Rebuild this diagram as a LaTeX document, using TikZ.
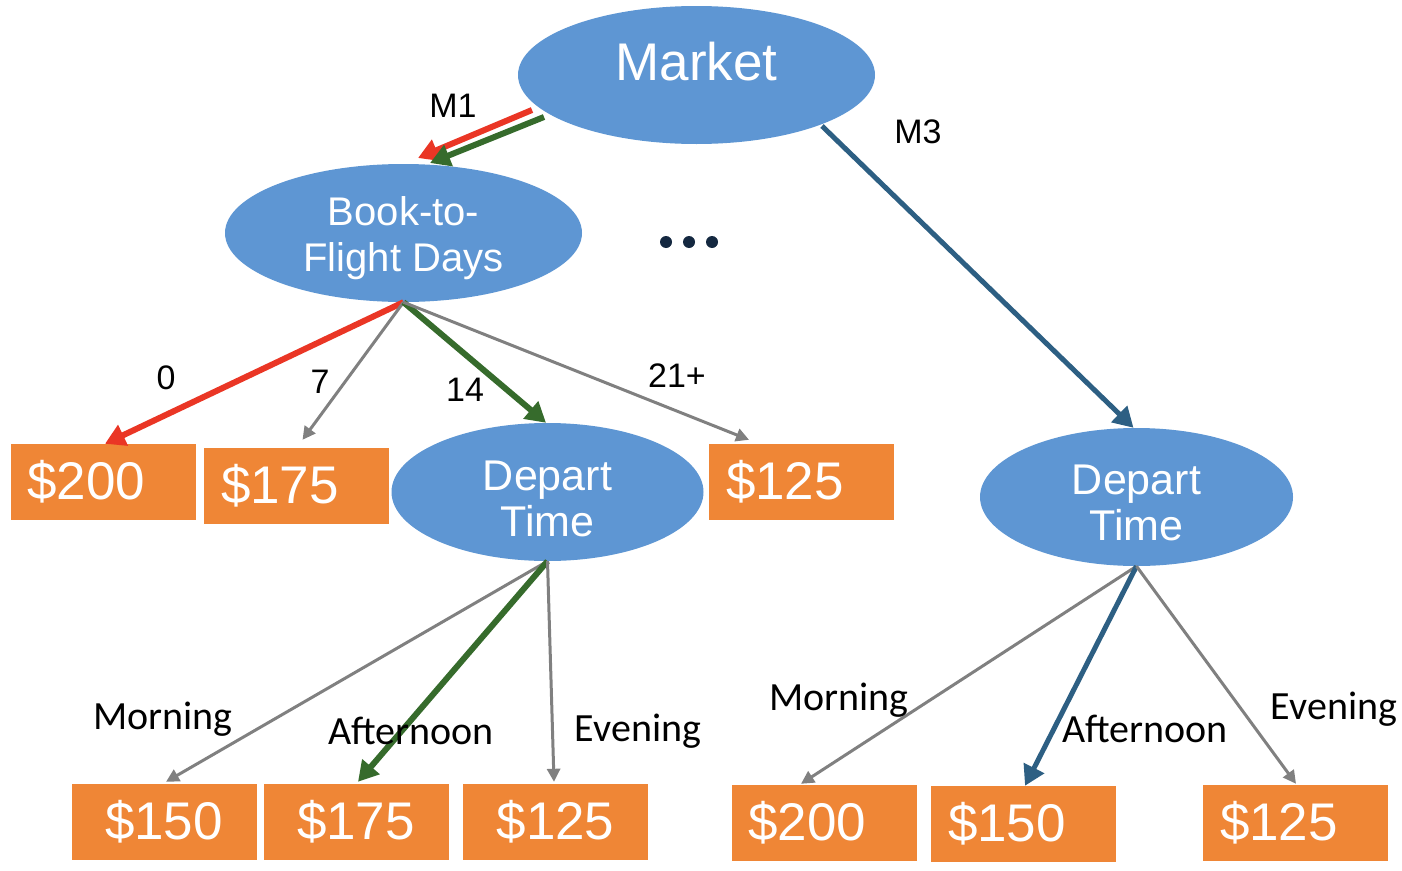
\documentclass[tikz,border=0pt]{standalone}
\usepackage{fontspec}
\setmainfont{Liberation Sans}
\newfontfamily\narrowfont{Carlito}
\usetikzlibrary{shapes.geometric,arrows.meta}
\definecolor{nodeblue}{RGB}{94,150,211}
\definecolor{boxorange}{RGB}{239,134,54}
\definecolor{pathred}{RGB}{234,54,37}
\definecolor{pathgreen}{RGB}{54,107,44}
\definecolor{pathblue}{RGB}{45,95,131}
\definecolor{edgegray}{RGB}{128,128,128}
\definecolor{dotcol}{RGB}{20,40,64}
\begin{document}
\begin{tikzpicture}[x=1pt,y=-1pt,
  ell/.style={ellipse, fill=nodeblue, inner sep=0pt, text=white, align=center},
  price/.style={rectangle, fill=boxorange, text=white, minimum width=185pt, minimum height=76pt, inner sep=0pt, font=\fontsize{53}{60}\selectfont},
  pricel/.style={price, inner xsep=17pt, text width=151pt, align=left},
  lbl/.style={inner sep=0pt, font=\fontsize{34}{40}\selectfont},
  nlbl/.style={inner sep=0pt, font=\narrowfont\fontsize{40}{46}\selectfont},
  bold/.style={line width=6pt, -{Triangle[length=20pt,width=22pt]}},
  thin/.style={line width=3pt, draw=edgegray, -{Triangle[length=13pt,width=13pt]}}
]
\useasboundingbox (0,0) rectangle (1402,870);

% ellipses
\node[ell, minimum width=357pt, minimum height=138pt, text height=38pt, text depth=28pt,
      font=\fontsize{53}{60}\selectfont] (mk) at (696.5,75) {Market};
\node[ell, minimum width=357pt, minimum height=138pt, text height=85pt, font=\fontsize{40}{46}\selectfont]
      (bf) at (403.5,233) {Book-to-\\Flight Days};
\node[ell, minimum width=312pt, minimum height=138pt, text height=90pt, font=\fontsize{43}{46}\selectfont]
      (dt1) at (547.5,492) {Depart\\Time};
\node[ell, minimum width=313pt, minimum height=138pt, text height=87pt, font=\fontsize{43}{46}\selectfont]
      (dt2) at (1136.5,497) {Depart\\Time};

% price boxes
\node[pricel] (p200a) at (103,482) {\$200};
\node[pricel] (p175a) at (296.5,486) {\$175};
\node[pricel] (p125a) at (801.5,482) {\$125};
\node[price] (p150b) at (164,822) {\$150};
\node[price] (p175b) at (356,822) {\$175};
\node[price] (p125b) at (555.5,822) {\$125};
\node[pricel] (p200c) at (824,823) {\$200};
\node[pricel] (p150c) at (1023.5,824) {\$150};
\node[pricel] (p125c) at (1295.5,823) {\$125};

% dots
\fill[dotcol] (666,242) circle (6pt);
\fill[dotcol] (689,242) circle (6pt);
\fill[dotcol] (712,242) circle (6pt);

% edges from Market
\draw[bold, color=pathred]
  ([shift={(-164.5,35)}]mk.center) -- ([shift={(14.5,-75)}]bf.center);
\draw[bold, color=pathgreen]
  ([shift={(-152.5,42)}]mk.center) -- ([shift={(26.5,-70)}]bf.center);
\draw[bold, color=pathblue, line width=5pt]
  ([shift={(125.5,51)}]mk.center) -- ([shift={(-3,0)}]dt2.north);

% edges from Book-to-Flight Days
\draw[bold, color=pathred] (bf.south) -- ([shift={(2,0)}]p200a.north);
\draw[thin] (bf.south) -- ([shift={(6,-8)}]p175a.north);
\draw[bold, color=pathgreen] (bf.south) -- ([shift={(-1.5,0)}]dt1.north);
\draw[thin] (bf.south) -- ([shift={(-52.5,-4)}]p125a.north);

% edges from Depart Time 1
\draw[thin] (dt1.south) -- ([shift={(2,-2)}]p150b.north);
\draw[bold, color=pathgreen] (dt1.south) -- ([shift={(2,-2)}]p175b.north);
\draw[thin] (dt1.south) -- ([shift={(-1.5,-2)}]p125b.north);

% edges from Depart Time 2
\draw[thin] (dt2.south) -- ([shift={(-23,-1)}]p200c.north);
\draw[bold, color=pathblue, line width=5pt] (dt2.south) -- ([shift={(1.5,0)}]p150c.north);
\draw[thin] (dt2.south) -- ([shift={(0.5,-1)}]p125c.north);

% labels
\node[lbl] (lm1) at (453,106) {M1};
\node[lbl] (lm3) at (918,132) {M3};
\node[lbl] (l0) at (166,378) {0};
\node[lbl] (l7) at (320,382) {7};
\node[lbl] (l14) at (465,390) {14};
\node[lbl] (l21) at (677,376) {21+};
\node[nlbl] (lmo1) at (163,719) {Morning};
\node[nlbl] (laf1) at (411,731) {Afternoon};
\node[nlbl] (lev1) at (638,731) {Evening};
\node[nlbl] (lmo2) at (839,700) {Morning};
\node[nlbl] (laf2) at (1145,729) {Afternoon};
\node[nlbl] (lev2) at (1334,709) {Evening};
\end{tikzpicture}
\end{document}
